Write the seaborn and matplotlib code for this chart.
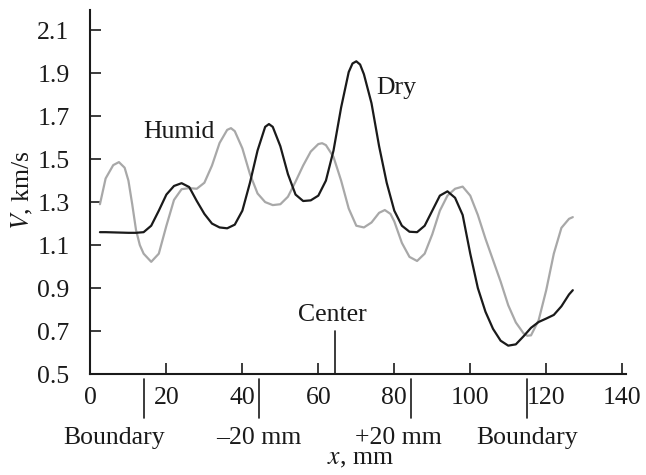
import numpy as np
import pandas as pd
import matplotlib
matplotlib.use('Agg')
import matplotlib.pyplot as plt
import seaborn as sns

# values
dry_x = [2.5, 4, 6, 8, 10, 12, 14, 16, 18, 20, 22, 24, 26, 28, 30, 32, 34, 36, 38, 40,
         42, 44, 46, 47, 48, 50, 52, 54, 56, 58, 60, 62, 64, 66, 68, 69, 70, 71, 72, 74, 76, 78,
         80, 82, 84, 86, 88, 90, 92, 94, 96, 98, 100, 102, 104, 106, 108, 110, 112, 114,
         116, 118, 120, 122, 124, 126, 127]
dry_v = [1.160, 1.160, 1.159, 1.158, 1.157, 1.157, 1.160, 1.190, 1.260, 1.335, 1.375, 1.388,
         1.370, 1.305, 1.245, 1.200, 1.182, 1.178, 1.195, 1.260, 1.390, 1.540, 1.650, 1.663,
         1.650, 1.560, 1.430, 1.335, 1.305, 1.308, 1.330, 1.400, 1.540, 1.740, 1.905, 1.945, 1.955,
         1.940, 1.895, 1.760, 1.560, 1.390, 1.260, 1.190, 1.162, 1.160, 1.190, 1.260, 1.330, 1.350,
         1.320, 1.240, 1.060, 0.900, 0.790, 0.710, 0.655, 0.632, 0.638, 0.675, 0.715, 0.742,
         0.758, 0.775, 0.815, 0.870, 0.890]

humid_x = [2.5, 4, 6, 7.5, 9, 10, 11, 12, 13, 14, 16, 18, 20, 22, 24, 26, 28, 30, 32, 34,
           36, 37, 38, 40, 42, 44, 46, 48, 50, 52, 54, 56, 58, 60, 61, 62, 64, 66, 68, 70,
           72, 74, 76, 77.5, 79, 80, 82, 84, 86, 88, 90, 92, 94, 96, 98, 100, 102, 104, 106,
           108, 110, 112, 114, 115, 116, 118, 120, 122, 124, 126, 127]
humid_v = [1.290, 1.410, 1.472, 1.486, 1.460, 1.400, 1.290, 1.170, 1.100, 1.060, 1.022, 1.060,
           1.190, 1.310, 1.360, 1.365, 1.362, 1.390, 1.470, 1.575, 1.636, 1.644, 1.630, 1.550,
           1.430, 1.340, 1.300, 1.286, 1.290, 1.325, 1.395, 1.470, 1.535, 1.570, 1.574, 1.565,
           1.510, 1.400, 1.270, 1.190, 1.182, 1.205, 1.250, 1.263, 1.245, 1.210, 1.110, 1.045,
           1.026, 1.060, 1.150, 1.260, 1.330, 1.362, 1.372, 1.330, 1.240, 1.130, 1.030, 0.930,
           0.820, 0.740, 0.690, 0.678, 0.680, 0.750, 0.890, 1.060, 1.180, 1.222, 1.230]

marks = [14, 44.3, 84.3, 115]
mark_labels = ['Boundary', '\u201320 mm', '+20 mm', 'Boundary']
mark_label_x = [6.2, 44.3, 81, 115]
center_x = 64.3

df = pd.concat([
    pd.DataFrame({'x': dry_x, 'V': dry_v, 'state': 'Dry'}),
    pd.DataFrame({'x': humid_x, 'V': humid_v, 'state': 'Humid'}),
])

sns.set_style('ticks')
plt.rcParams['font.family'] = ['Liberation Serif', 'DejaVu Serif']
plt.rcParams['mathtext.fontset'] = 'stix'
FS = 18.5

fig = plt.figure(figsize=(6.46, 4.75), dpi=100)
ax = fig.add_axes([0.140, 0.2126, 0.829, 0.766])

sns.lineplot(data=df, x='x', y='V', hue='state', palette={'Dry': '#1a1a1a', 'Humid': '#a8a8a8'},
             hue_order=['Humid', 'Dry'], linewidth=1.6, legend=False, sort=False, ax=ax,
             solid_joinstyle='round', solid_capstyle='round')

ax.set_xlim(0, 141)
ax.set_ylim(0.5, 2.193)
ax.set_xticks(range(0, 141, 20))
yt = [0.5, 0.7, 0.9, 1.1, 1.3, 1.5, 1.7, 1.9, 2.1]
ax.set_yticks(yt)
ax.set_yticklabels([f'{v:.1f}' for v in yt])
ax.tick_params(direction='in', length=8, width=1.2, labelsize=FS, colors='#1a1a1a')
ax.tick_params(axis='x', pad=9)
ax.tick_params(axis='y', pad=15)
for s in ['top', 'right']:
    ax.spines[s].set_visible(False)
for s in ['left', 'bottom']:
    ax.spines[s].set_linewidth(1.5)
    ax.spines[s].set_color('#1a1a1a')
ax.set_xlabel('')
ax.set_ylabel('')

trans = ax.get_xaxis_transform()
for m in marks:
    ax.plot([m, m], [-0.014, -0.121], transform=trans, color='#1a1a1a', lw=1.2, clip_on=False)
for lx, lab in zip(mark_label_x, mark_labels):
    ax.text(lx, -0.176, lab, transform=trans, ha='center', va='center', fontsize=FS, color='#1a1a1a')
ax.text(71, -0.233, r'$\it{x}$, mm', transform=trans, ha='center', va='center', fontsize=FS, color='#1a1a1a')

ax.plot([center_x, center_x], [0.5, 0.70], color='#1a1a1a', lw=1.2)
ax.text(63.8, 0.774, 'Center', ha='center', va='center', fontsize=FS, color='#1a1a1a')
ax.text(23.3, 1.626, 'Humid', ha='center', va='center', fontsize=FS, color='#1a1a1a')
ax.text(80.4, 1.83, 'Dry', ha='center', va='center', fontsize=FS, color='#1a1a1a')

fig.text(22 / 646, 1 - 190 / 475, r'$\it{V}$, km/s', rotation=90, ha='center', va='center',
         fontsize=FS, color='#1a1a1a')

fig.savefig('out.png', dpi=100)
